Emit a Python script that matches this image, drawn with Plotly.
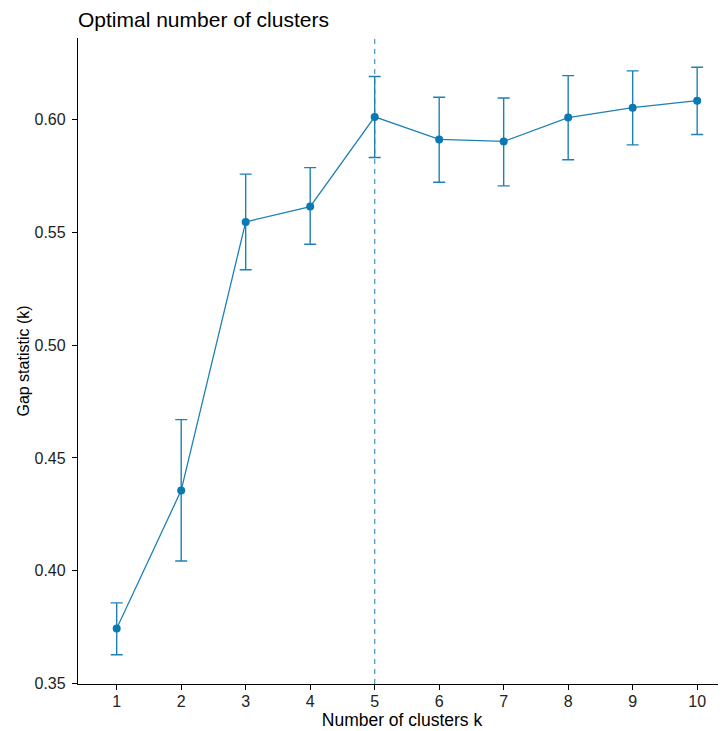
import plotly.graph_objects as go

k_values = [1, 2, 3, 4, 5, 6, 7, 8, 9, 10]
gap_values = [0.3743, 0.4356, 0.5547, 0.5615, 0.6013, 0.5913, 0.5904, 0.6010, 0.6054, 0.6085]
upper_values = [0.3857, 0.4670, 0.5759, 0.5788, 0.6192, 0.6100, 0.6097, 0.6196, 0.6217, 0.6233]
lower_values = [0.3627, 0.4043, 0.5335, 0.5448, 0.5833, 0.5723, 0.5707, 0.5823, 0.5889, 0.5935]
optimal_k = 5
y_ticks = [0.35, 0.40, 0.45, 0.50, 0.55, 0.60]
y_tick_labels = ["0.35", "0.40", "0.45", "0.50", "0.55", "0.60"]
x_tick_labels = [str(k) for k in k_values]

color = "#1f80b5"
font_family = "Liberation Sans, Arial, sans-serif"
y_min, y_max = 0.3497, 0.6363

err_plus = [u - g for u, g in zip(upper_values, gap_values)]
err_minus = [g - l for g, l in zip(gap_values, lower_values)]

fig = go.Figure()
fig.add_trace(go.Scatter(
    x=[optimal_k, optimal_k], y=[y_min, y_max], mode="lines",
    line=dict(color="#4a9fcb", width=1.3, dash="5px,5px"),
    hoverinfo="skip", showlegend=False,
))
fig.add_trace(go.Scatter(
    x=k_values, y=gap_values, mode="lines+markers",
    line=dict(color=color, width=1.3),
    marker=dict(color="#0a78b2", size=8),
    error_y=dict(type="data", symmetric=False, array=err_plus, arrayminus=err_minus,
                 color=color, thickness=1.4, width=6),
    showlegend=False,
))

# page has an 8px body margin; figure sized to fill the rest of the window
W, H = 718, 723
fig.update_layout(
    width=W, height=H,
    margin=dict(l=70, r=0, t=30, b=47, autoexpand=False),
    paper_bgcolor="white", plot_bgcolor="white",
    font=dict(family=font_family, size=16, color="black"),
    title=dict(text="Optimal number of clusters", x=0, xref="paper", xanchor="left",
               y=1 - 12 / H, yref="container", yanchor="middle",
               font=dict(size=21, color="black")),
    xaxis=dict(
        range=[0.4, 10.447], tickmode="array", tickvals=k_values, ticktext=x_tick_labels,
        showline=True, linecolor="black", linewidth=1.3, ticks="outside", ticklen=5,
        tickcolor="black", tickwidth=1, showgrid=False, zeroline=False,
        tickfont=dict(size=16, color="#222222"), ticklabelstandoff=-2,
        title=dict(text="Number of clusters k", font=dict(size=17.5), standoff=2),
    ),
    yaxis=dict(
        range=[y_min, y_max], tickmode="array", tickvals=y_ticks, ticktext=y_tick_labels,
        showline=True, linecolor="black", linewidth=1.3, ticks="outside", ticklen=5,
        tickcolor="black", tickwidth=1, showgrid=False, zeroline=False,
        tickfont=dict(size=16, color="#222222"), ticklabelstandoff=3,
        title=dict(text="Gap statistic (k)", font=dict(size=16), standoff=0),
    ),
)

fig.write_html("out.html")
